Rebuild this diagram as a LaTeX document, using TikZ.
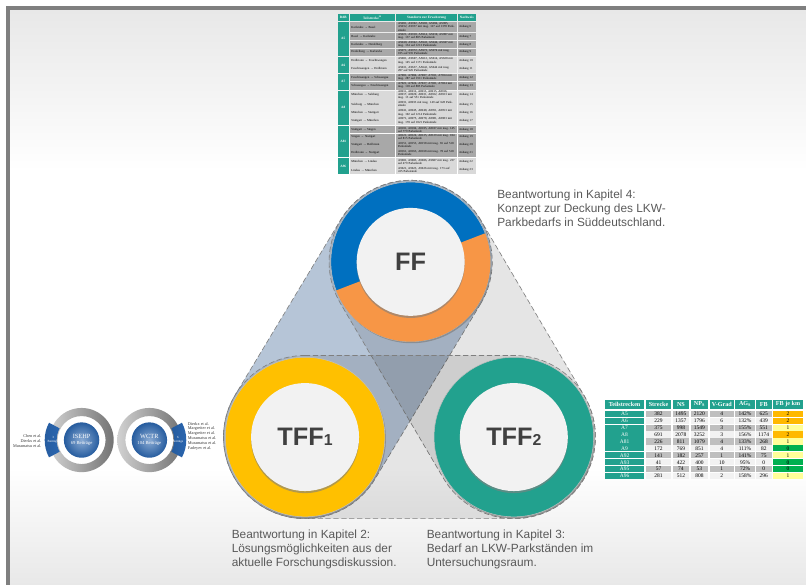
\documentclass[tikz,border=0pt]{standalone}
\usepackage{fontspec}
\setmainfont{Liberation Sans}
\newfontfamily\tabfont{Liberation Serif}
\usetikzlibrary{calc,shadows}

\definecolor{framegray}{HTML}{7F7F7F}
\definecolor{paper}{HTML}{E8E8E8}
\definecolor{ringblue}{HTML}{0070C0}
\definecolor{ringorange}{HTML}{F79646}
\definecolor{ringyellow}{HTML}{FFC000}
\definecolor{teal}{HTML}{22A18E}
\definecolor{discgray}{HTML}{F2F2F2}
\definecolor{labelgray}{HTML}{595959}
\definecolor{stadiumblue}{RGB}{72,110,155}
\definecolor{rowdark}{HTML}{A8A8A8}
\definecolor{rowlight}{HTML}{D9D9D9}
\definecolor{rowgray}{HTML}{BFBFBF}
\definecolor{kmorange}{HTML}{FFB900}
\definecolor{kmyellow}{HTML}{FFFF99}
\definecolor{kmgreen}{HTML}{00B050}
\definecolor{ballblue}{HTML}{2A66B0}

\tikzset{
  stadiumline/.style={draw=framegray, dashed, dash pattern=on 5pt off 2.5pt, line width=0.6pt},
  ringback/.style={draw=black!25, line width=0.5pt, drop shadow={shadow xshift=1pt, shadow yshift=-1.5pt, opacity=0.7}},
  disc/.style={circle, fill=discgray, minimum size=3.6cm, inner sep=0, text=black!75,
    font=\fontsize{24}{24}\selectfont\bfseries, drop shadow={shadow xshift=0pt, shadow yshift=-2pt, opacity=0.6}},
  answer/.style={anchor=north west, align=left, inner sep=0, text=labelgray, font=\fontsize{11.25}{13.3}\selectfont},
  cellbox/.style={rectangle, inner sep=0, font=\tabfont\fontsize{2.9}{3}\selectfont},
  headA/.style={fill=teal, text=white, font=\tabfont\bfseries\fontsize{3.2}{3.4}\selectfont},
  bigcell/.style={rectangle, inner sep=0, font=\tabfont\fontsize{5.2}{5.6}\selectfont},
  headB/.style={fill=teal, text=white, font=\tabfont\bfseries\fontsize{5.8}{5.8}\selectfont},
  ball/.style={circle, inner color=ballblue!55, outer color=ballblue!90!black, minimum size=1.18cm, inner sep=0,
    text=white, align=center, font=\tabfont\fontsize{4.4}{6}\selectfont},
  sectorbox/.style={left color=ballblue!90!black, right color=ballblue},
  author/.style={inner sep=0, font=\tabfont\fontsize{4}{4}\selectfont, text=black!80}
}

\newcommand{\stadium}[3]{
  \draw[stadiumline, #3] let \p1=(#1), \p2=(#2), \n1={atan2(\y2-\y1,\x2-\x1)} in
    ($(#1)+(\n1+90:2.72)$) arc[start angle=\n1+90, end angle=\n1+270, radius=2.72]
    -- ($(#2)+(\n1-90:2.72)$) arc[start angle=\n1-90, end angle=\n1+90, radius=2.72] -- cycle;
}
\newcommand{\tabcell}[7]{
  \node[#6, minimum width={(#3-#2)*1cm/30}, minimum height={(#5-#4)*1cm/30}] (#1) at ({(#2+#3)/2},{(#4+#5)/2}) {#7};
}

\begin{document}
\begin{tikzpicture}

\useasboundingbox (0,0) rectangle (26.87,19.5);

\shade[top color=paper, bottom color=white] (0.33,13.8) rectangle (26.87,19.17);
\shade[top color=white, bottom color=paper] (0.33,0) rectangle (26.87,3.9);
\fill[framegray] (0.2,0) rectangle (0.33,19.3);
\fill[framegray] (0.2,19.17) rectangle (26.87,19.3);

\coordinate (cFF) at (13.69,10.77);
\coordinate (cTFFa) at (10.17,4.93);
\coordinate (cTFFb) at (17.13,4.93);

\stadium{cFF}{cTFFa}{fill=stadiumblue, fill opacity=0.4}
\stadium{cFF}{cTFFb}{fill=black, fill opacity=0.1}
\stadium{cTFFa}{cTFFb}{fill=black, fill opacity=0.1}

\fill[ringback, fill=ringblue] (cFF) circle (2.66);
\fill[ringorange] ($(cFF)+(201:2.66)$) arc[start angle=201, end angle=381, radius=2.66] -- cycle;
\fill[ringback, fill=ringyellow] (cTFFa) circle (2.66);
\fill[ringback, fill=teal] (cTFFb) circle (2.66);

\node[disc] (FF) at (cFF) {FF};
\node[disc] (TFFa) at (cTFFa) {TFF{\fontsize{15}{15}\selectfont 1}};
\node[disc] (TFFb) at (cTFFb) {TFF{\fontsize{15}{15}\selectfont 2}};

\node[answer] (kapitelvier) at (16.57,13.18) {Beantwortung in Kapitel 4:\\Konzept zur Deckung des LKW-\\Parkbedarfs in Süddeutschland.};
\node[answer] (kapitelzwei) at (7.72,1.85) {Beantwortung in Kapitel 2:\\Lösungsmöglichkeiten aus der\\aktuelle Forschungsdiskussion.};
\node[answer] (kapiteldrei) at (14.22,1.85) {Beantwortung in Kapitel 3:\\Bedarf an LKW-Parkständen im\\Untersuchungsraum.};

\coordinate (cISEHP) at (2.72,4.83);
\coordinate (cWCTR) at (4.98,4.83);
\shade[left color=black!18, right color=black!55, even odd rule] (cISEHP) circle (1.07) (cISEHP) circle (0.8);
\shade[left color=black!18, right color=black!55, even odd rule] (cWCTR) circle (1.07) (cWCTR) circle (0.8);
\shade[sectorbox] ($(cISEHP)+(152:1.23)$) arc[start angle=152, end angle=208, radius=1.23]
  -- ($(cISEHP)+(208:0.83)$) arc[start angle=208, end angle=152, radius=0.83] -- cycle;
\shade[sectorbox] ($(cWCTR)+(-28:1.23)$) arc[start angle=-28, end angle=28, radius=1.23]
  -- ($(cWCTR)+(28:0.83)$) arc[start angle=28, end angle=-28, radius=0.83] -- cycle;

\node[ball] (ISEHP) at (cISEHP) {{\fontsize{6}{6}\selectfont ISEHP}\\69 Beiträge};
\node[ball] (WCTR) at (cWCTR) {{\fontsize{6}{6}\selectfont WCTR}\\104 Beiträge};
\node[inner sep=0, text=white, align=center, font=\tabfont\fontsize{3}{3.6}\selectfont] (dreiB) at (1.77,4.85) {3\\Beiträge};
\node[inner sep=0, text=white, align=center, font=\tabfont\fontsize{3}{3.6}\selectfont] (sechsB) at (5.93,4.85) {6\\Beiträge};

\node[author, anchor=east] (chen) at (1.39,4.96) {Chen et al.};
\node[author, anchor=east] (dierkxA) at (1.39,4.8) {Dierkx et al.};
\node[author, anchor=east] (muraA) at (1.39,4.64) {Muramatsu et al.};
\foreach \i/\y/\who in {1/5.37/Dierkx, 2/5.2/Margreiter, 3/5.04/Margreiter, 4/4.88/Muramatsu, 5/4.72/Muramatsu, 6/4.56/Fadeyev} {
  \node[author, anchor=west] (autor\i) at (6.26,\y) {\who{} et al.};
}

\begin{scope}[yshift=19.5cm, x=1cm/30, y=-1cm/30]

\tabcell{headBAB}{338}{348.6}{14}{21}{cellbox,headA}{BAB}
\tabcell{headStrecke}{349.6}{395.4}{14}{21}{cellbox,headA}{Teilstrecke\textsuperscript{30}}
\tabcell{headStand}{396.4}{456.8}{14}{21}{cellbox,headA}{Standorte zur Erweiterung}
\tabcell{headNach}{457.8}{476}{14}{21}{cellbox,headA}{Nachweis}

\foreach \i/\yA/\yB/\bab in {1/21.7/55.7/A5, 2/57/73/A6, 3/73.7/89.7/A7, 4/90.7/124.7/A8, 5/126/156.7/A81, 6/158/174/A96} {
  \tabcell{bab\i}{338}{348.6}{\yA}{\yB}{cellbox,headA}{\bab}
}

\foreach \i/\yA/\yB/\strecke/\stand/\col in {
  6/21.7/32.3/Karlsruhe → Basel/{AS901, AS902, AS903, AS904, AS905, AS932, AS937 mit insg. 127 auf 1378 Parkstände}/rowdark,
  7/32.7/40.3/Basel → Karlsruhe/{AS921, AS918, AS914, AS910, AS907 mit insg. 137 auf 805 Parkstände}/rowdark,
  8/40.7/48.3/Karlsruhe → Heidelberg/{AS940, AS942, AS943, AS944, AS947 mit insg. 134 auf 1213 Parkstände}/rowdark,
  9/48.7/55.7/Heidelberg → Karlsruhe/{AS971, AS972, AS973, AS974 mit insg. 105 auf 935 Parkstände}/rowdark,
  10/57/64.6/Heilbronn → Feuchtwangen/{AS601, AS607, AS612, AS614, AS620 mit insg. 145 auf 1171 Parkstände}/rowlight,
  11/65/73/Feuchtwangen → Heilbronn/{AS631, AS637, AS642, AS644 mit insg. 207 auf 926 Parkstände}/rowlight,
  12/73.7/81.3/Feuchtwangen → Schwangau/{A7001, A7004, A7007, A7011, A7014 mit insg. 287 auf 1911 Parkstände}/rowdark,
  13/81.7/89.7/Schwangau → Feuchtwangen/{A7021, A7024, A7027, A7031, A7034 mit insg. 118 auf 805 Parkstände}/rowdark,
  14/90.7/99.6/München → Salzburg/{A8911, A8912, A8913, A8915, A8916, A8917, A8920, A8921, A8922, A8923 mit insg. 13 auf 551 Parkstände}/rowlight,
  15/100/108.6/Salzburg → München/{A8931, A8933 mit insg. 149 auf 628 Parkstände}/rowlight,
  16/109/116.6/München → Stuttgart/{A8941, A8945, A8948, A8951, A8953 mit insg. 102 auf 1214 Parkstände}/rowlight,
  17/117/124.7/Stuttgart → München/{A8971, A8975, A8978, A8981, A8983 mit insg. 170 auf 1021 Parkstände}/rowlight,
  18/126/133.3/Stuttgart → Singen/{A8101, A8104, A8105, A8107 mit insg. 145 auf 779 Parkstände}/rowdark,
  19/133.7/140.6/Singen → Stuttgart/{A8121, A8124, A8125, A8129 mit insg. 104 auf 815 Parkstände}/rowdark,
  20/141/148.6/Stuttgart → Heilbronn/{A8151, A8153, A8158 mit insg. 65 auf 510 Parkstände}/rowdark,
  21/149/156.7/Heilbronn → Stuttgart/{A8161, A8163, A8168 mit insg. 70 auf 510 Parkstände}/rowdark,
  22/158/165.6/München → Lindau/{A9601, A9603, A9606, A9607 mit insg. 237 auf 479 Parkstände}/rowlight,
  23/166/174/Lindau → München/{A9621, A9623, A9626 mit insg. 173 auf 415 Parkstände}/rowlight} {
  \tabcell{teil\i}{349.6}{395.4}{\yA}{\yB}{cellbox,fill=\col,text width=1.4cm,align=left}{\strecke}
  \tabcell{stand\i}{396.4}{456.8}{\yA}{\yB}{cellbox,fill=\col,text width=1.9cm,align=left}{\stand}
  \tabcell{nach\i}{457.8}{476}{\yA}{\yB}{cellbox,fill=\col,text width=0.52cm,align=left}{Anhang \i}
}

\tabcell{headTeil}{605}{644.3}{400}{409}{bigcell,headB}{Teilstrecken}
\tabcell{headLen}{646}{671.3}{400}{409}{bigcell,headB}{Strecke}
\tabcell{headNS}{672.7}{689.3}{400}{409}{bigcell,headB}{NS}
\tabcell{headNP}{690.7}{708.3}{400}{409}{bigcell,headB}{NP\textsubscript{S}}
\tabcell{headV}{709.7}{734}{400}{409}{bigcell,headB}{V-Grad}
\tabcell{headAG}{735.3}{755}{400}{409}{bigcell,headB}{AG\textsubscript{S}}
\tabcell{headFB}{756}{771.7}{400}{409}{bigcell,headB}{FB}
\tabcell{headKm}{773}{803.3}{400}{409}{bigcell,headB}{FB je km}

\foreach \i/\teil/\len/\ns/\np/\vg/\ag/\fb/\km/\kmcol/\col in {
  0/A5/382/1495/2120/4/142/625/2/kmorange/rowgray,
  1/A6/229/1357/1796/6/132/439/2/kmorange/discgray,
  2/A7/375/998/1549/3/155/551/1/kmyellow/rowgray,
  3/A8/691/2078/3252/3/156/1174/2/kmorange/discgray,
  4/A81/226/811/1079/4/133/268/1/kmyellow/rowgray,
  5/A9/172/769/851/4/111/82/0/kmgreen/discgray,
  6/A92/141/182/257/1/141/75/1/kmyellow/rowgray,
  7/A93/41/422/400/10/95/0/0/kmgreen/discgray,
  8/A95/57/74/53/1/72/0/0/kmgreen/rowgray,
  9/A96/281/512/808/2/158/296/1/kmyellow/discgray} {
  \pgfmathsetmacro{\yA}{410.7+6.93*\i}
  \pgfmathsetmacro{\yB}{\yA+6.2}
  \tabcell{rowTeil\i}{605}{644.3}{\yA}{\yB}{bigcell,fill=teal,text=white}{\teil}
  \tabcell{rowLen\i}{646}{671.3}{\yA}{\yB}{bigcell,fill=\col}{\len}
  \tabcell{rowNS\i}{672.7}{689.3}{\yA}{\yB}{bigcell,fill=\col}{\ns}
  \tabcell{rowNP\i}{690.7}{708.3}{\yA}{\yB}{bigcell,fill=\col}{\np}
  \tabcell{rowV\i}{709.7}{734}{\yA}{\yB}{bigcell,fill=\col}{\vg}
  \tabcell{rowAG\i}{735.3}{755}{\yA}{\yB}{bigcell,fill=\col}{\ag\%}
  \tabcell{rowFB\i}{756}{771.7}{\yA}{\yB}{bigcell,fill=\col}{\fb}
  \tabcell{rowKm\i}{773}{803.3}{\yA}{\yB}{bigcell,fill=\kmcol}{\km}
}

\end{scope}

\end{tikzpicture}
\end{document}
